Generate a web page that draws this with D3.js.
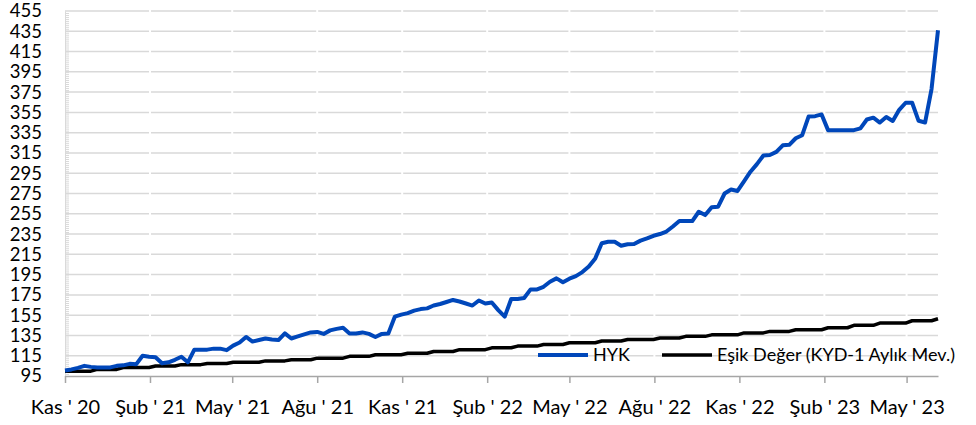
<!DOCTYPE html>
<html>
<head>
<meta charset="utf-8">
<script src="https://cdn.jsdelivr.net/npm/d3@7"></script>
<style>
  body { margin: 0; background: #fff; }
  svg { display: block; font-family: Lato, "Noto Sans", sans-serif; }
</style>
</head>
<body>
<svg></svg>
<script>
var width = 976;
var height = 425;
var plotLeft = 65, plotRight = 938, plotTop = 11, plotBottom = 376;

// weekly HYK values, first week starting 1 Nov 2020
var startDate = new Date(2020, 10, 1);
var hyk = [
  100.5, 101.5, 103, 105, 104, 103.5, 103.5, 103.5, 105, 105.5,
  107, 106.5, 115, 114, 113.5, 107.5, 108.5, 111, 114, 108.5,
  121, 121, 121, 122, 122, 120.5, 125, 128, 133.5, 129,
  130.5, 132, 131, 130.4, 137, 132, 134, 136, 138, 138.5,
  136.5, 140, 141.5, 142.5, 137, 137, 138, 136.5, 133.5, 136.5,
  137, 153.5, 155.5, 157, 159.5, 161, 161.7, 164.5, 166, 168,
  170, 168.5, 166.5, 164.5, 169.5, 166.5, 167.5, 160, 153.5, 171,
  171, 172, 180.4, 180.4, 183, 188, 191.3, 187.5, 191, 193.5,
  197.5, 203, 211, 226, 227.4, 227.4, 223.5, 225, 225.2, 228.5,
  230.7, 233.3, 235, 237.5, 242.5, 247.8, 247.8, 247.8, 257, 253.7,
  261.5, 262, 275, 279, 277.5, 287, 296.5, 304, 312.5, 313,
  316, 322.5, 323, 329.5, 332.5, 351, 351.3, 353, 337.5, 337.5,
  337.5, 337.5, 337.5, 339.2, 348, 349.8, 345, 350.5, 346.5, 357.5,
  364.5, 364.5, 346.7, 345, 378, 436
];

// monthly threshold (KYD-1 monthly), Nov 2020 .. Jun 2023
var esikMonths = [
  '2020-11', '2020-12', '2021-01', '2021-02', '2021-03', '2021-04', '2021-05', '2021-06',
  '2021-07', '2021-08', '2021-09', '2021-10', '2021-11', '2021-12', '2022-01', '2022-02',
  '2022-03', '2022-04', '2022-05', '2022-06', '2022-07', '2022-08', '2022-09', '2022-10',
  '2022-11', '2022-12', '2023-01', '2023-02', '2023-03', '2023-04', '2023-05', '2023-06'
];
var esikValues = [
  99.8, 101.5, 103.4, 104.8, 106.2, 107.4, 108.6, 109.9,
  111, 112.6, 114.4, 116, 117.4, 119.2, 121, 122.8,
  124.5, 126.1, 127.8, 129.5, 131, 132.5, 134.1, 135.6,
  137.5, 139, 140.6, 142.6, 145, 147.2, 149.5, 151.5
];

var tickLabels = ["Kas ' 20", "Şub ' 21", "May ' 21", "Ağu ' 21", "Kas ' 21", "Şub ' 22",
                  "May ' 22", "Ağu ' 22", "Kas ' 22", "Şub ' 23", "May ' 23"];
var tickDates = ['2020-11', '2021-02', '2021-05', '2021-08', '2021-11', '2022-02',
                 '2022-05', '2022-08', '2022-11', '2023-02', '2023-05'];

var seriesNames = ['HYK', 'Eşik Değer (KYD-1 Aylık Mev.)'];
var colors = ['#0047ba', '#000000'];

var parseMonth = d3.timeParse('%Y-%m');
var monthKey = d3.timeFormat('%Y-%m');

var data = hyk.map((v, i) => {
  var date = d3.timeDay.offset(startDate, i * 7);
  return {date: date, hyk: v, esik: esikValues[esikMonths.indexOf(monthKey(date))]};
});

var xScale = d3.scaleTime()
  .domain([startDate, data[data.length - 1].date])
  .range([plotLeft, plotRight]);

var yScale = d3.scaleLinear()
  .domain([95, 455])
  .range([plotBottom, plotTop]);

var svg = d3.select('svg')
  .attr('width', width)
  .attr('height', height);

var ticks = tickDates.map(parseMonth);

// gridlines
svg.append('g')
  .selectAll('line')
  .data(d3.range(115, 456, 20))
  .enter()
  .append('line')
    .attr('x1', plotLeft)
    .attr('x2', plotRight)
    .attr('y1', d => yScale(d))
    .attr('y2', d => yScale(d))
    .attr('stroke', '#d9d9d9')
    .attr('stroke-width', 1.5);

// small gaps in the gridlines at each quarter
svg.append('g')
  .selectAll('line')
  .data(ticks.slice(1))
  .enter()
  .append('line')
    .attr('x1', d => xScale(d))
    .attr('x2', d => xScale(d))
    .attr('y1', plotTop - 2)
    .attr('y2', plotBottom - 2)
    .attr('stroke', '#fff')
    .attr('stroke-width', 2);

// y axis: light line with minor ticks
var yAxis = d3.axisRight(yScale)
  .tickValues(d3.range(97, 455, 2))
  .tickSize(4)
  .tickSizeOuter(0)
  .tickFormat('');

var yg = svg.append('g')
  .attr('transform', `translate(${plotLeft},0)`)
  .call(yAxis);
yg.selectAll('line, path').attr('stroke', '#d9d9d9');

svg.append('g')
  .selectAll('text')
  .data(d3.range(95, 456, 20))
  .enter()
  .append('text')
    .attr('x', 42)
    .attr('y', d => yScale(d))
    .attr('dy', '0.35em')
    .style('text-anchor', 'end')
    .style('font-size', '18.5px')
    .attr('fill', '#000')
    .text(d => d);

// x axis
var xAxis = d3.axisBottom(xScale)
  .tickValues(ticks)
  .tickSize(7)
  .tickSizeOuter(0)
  .tickFormat((d, i) => tickLabels[i]);

var xg = svg.append('g')
  .attr('transform', `translate(0,${plotBottom})`)
  .call(xAxis);
xg.selectAll('line, path').attr('stroke', '#a6a6a6').attr('stroke-width', 1.5);
xg.selectAll('text')
  .attr('y', 31)
  .attr('dy', '0.35em')
  .style('font-size', '20px')
  .style('font-family', 'Lato, "Noto Sans", sans-serif')
  .attr('fill', '#000');

// lines
var esikLine = d3.line()
  .x(d => xScale(d.date))
  .y(d => yScale(d.esik));

var hykLine = d3.line()
  .x(d => xScale(d.date))
  .y(d => yScale(d.hyk));

svg.append('path')
  .datum(data)
  .attr('fill', 'none')
  .attr('stroke', colors[1])
  .attr('stroke-width', 3.5)
  .attr('stroke-linejoin', 'round')
  .attr('d', esikLine);

svg.append('path')
  .datum(data)
  .attr('fill', 'none')
  .attr('stroke', colors[0])
  .attr('stroke-width', 4)
  .attr('stroke-linejoin', 'round')
  .attr('d', hykLine);

// legend
var legendX = [538, 662];
var legend = svg.append('g')
  .selectAll('g')
  .data(seriesNames)
  .enter()
  .append('g')
    .attr('transform', (d, i) => `translate(${legendX[i]},355)`);

legend.append('line')
  .attr('x1', 0)
  .attr('x2', 50)
  .attr('stroke', (d, i) => colors[i])
  .attr('stroke-width', (d, i) => i === 0 ? 4 : 3.5);

legend.append('text')
  .attr('x', 55)
  .attr('dy', '0.35em')
  .style('font-size', '18px')
  .attr('fill', '#000')
  .text(d => d);
</script>
</body>
</html>
